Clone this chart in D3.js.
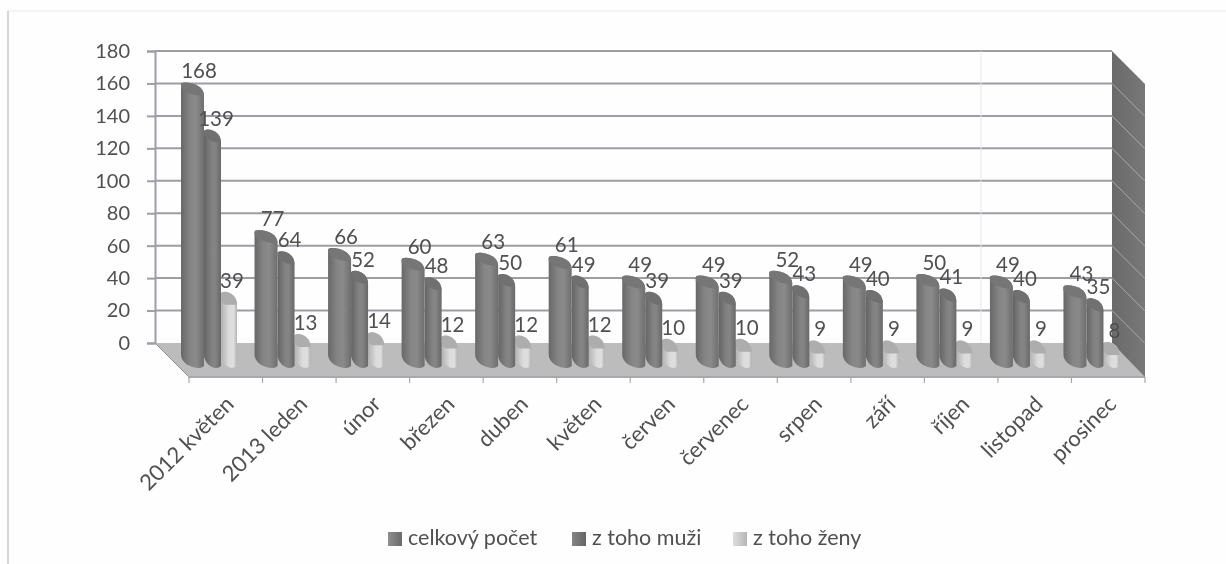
<!DOCTYPE html>
<html>
<head>
<meta charset="utf-8">
<script src="https://cdnjs.cloudflare.com/ajax/libs/d3/7.8.5/d3.min.js"></script>
<style>
    html, body { margin: 0; padding: 0; background: #fefefe; overflow: hidden; }
    svg { display: block; filter: blur(0.7px); }
    text { font-family: Lato, "Open Sans", sans-serif; fill: #505050; }
</style>
</head>
<body>
<div id="content"></div>
<script>
const categories = ['2012 květen', '2013 leden', 'únor', 'březen', 'duben', 'květen', 'červen', 'červenec', 'srpen', 'září', 'říjen', 'listopad', 'prosinec'];
const seriesNames = ['celkový počet', 'z toho muži', 'z toho ženy'];
const celkem = [168, 77, 66, 60, 63, 61, 49, 49, 52, 49, 50, 49, 43];
const muzi = [139, 64, 52, 48, 50, 49, 39, 39, 43, 40, 41, 40, 35];
const zeny = [39, 13, 14, 12, 12, 12, 10, 10, 9, 9, 9, 9, 8];
const yTicks = [0, 20, 40, 60, 80, 100, 120, 140, 160, 180];

const width = 1226;
const height = 564;
const depth = 33;
const backLeft = 155, backRight = 1112;

const y = d3.scaleLinear().domain([0, 180]).range([343, 51]);
const x = d3.scaleBand().domain(categories).range([backLeft + depth + 1, backRight + depth]);

const svg = d3.select('#content').append('svg').attr('width', width).attr('height', height);
const defs = svg.append('defs');

function gradient(id, stops) {
    let g = defs.append('linearGradient').attr('id', id);
    stops.forEach(s => g.append('stop').attr('offset', s[0]).attr('stop-color', s[1]));
}
gradient('g0', [[0, '#686868'], [0.4, '#858585'], [0.65, '#8a8a8a'], [1, '#6e6e6e']]);
gradient('g1', [[0, '#646464'], [0.45, '#828282'], [0.65, '#858585'], [1, '#686868']]);
gradient('g2', [[0, '#b2b2b2'], [0.5, '#dcdcdc'], [0.8, '#dedede'], [1, '#b2b2b2']]);
gradient('legend0', [[0, '#8f8f8f'], [1, '#6a6a6a']]);
gradient('legend1', [[0, '#848484'], [1, '#666666']]);
gradient('legend2', [[0, '#dedede'], [1, '#b5b5b5']]);
gradient('wall', [[0, '#6a6a6a'], [1, '#787878']]);

// sheet border
svg.append('line').attr('x1', 8).attr('x2', width).attr('y1', 11).attr('y2', 11).attr('stroke', '#f0f0f0').attr('stroke-width', 1.5);
svg.append('line').attr('x1', 8).attr('x2', 8).attr('y1', 11).attr('y2', height).attr('stroke', '#c9c9c9').attr('stroke-width', 1.5);

// floor
svg.append('polygon')
    .attr('points', [[backLeft, y(0)], [backRight, y(0)], [backRight + depth, y(0) + depth], [backLeft + depth, y(0) + depth]].join(' '))
    .attr('fill', '#bcbcbc');
svg.append('line').attr('x1', backLeft + depth).attr('x2', backRight + depth).attr('y1', y(0) + depth + 1).attr('y2', y(0) + depth + 1).attr('stroke', '#a8a8ae').attr('stroke-width', 2);
svg.append('line').attr('x1', backLeft).attr('x2', backLeft + depth).attr('y1', y(0)).attr('y2', y(0) + depth).attr('stroke', '#8f8f95').attr('stroke-width', 1);

// right wall
svg.append('polygon')
    .attr('points', [[backRight, y(180)], [backRight + depth, y(180) + depth], [backRight + depth, y(0) + depth + 1], [backRight, y(0)]].join(' '))
    .attr('fill', 'url(#wall)');
svg.selectAll('.wallLine').data(yTicks.slice(1, -1)).enter().append('line')
    .attr('class', 'wallLine')
    .attr('x1', backRight).attr('x2', backRight + depth)
    .attr('y1', d => y(d)).attr('y2', d => y(d) + depth)
    .attr('stroke', '#a8a8a8').attr('stroke-width', 1);

// gridlines
svg.selectAll('.grid').data(yTicks.slice(1)).enter().append('line')
    .attr('class', 'grid')
    .attr('x1', backLeft).attr('x2', backRight)
    .attr('y1', d => y(d)).attr('y2', d => y(d))
    .attr('stroke', '#9d9da6').attr('stroke-width', 2);
svg.append('line').attr('x1', 981).attr('x2', 981).attr('y1', y(180)).attr('y2', y(0)).attr('stroke', '#e6e9ee');

// y axis
let yAxis = d3.axisLeft(y).tickValues(yTicks).tickSize(8).tickPadding(17);
let yG = svg.append('g').attr('transform', `translate(${backLeft},0)`).call(yAxis);
yG.select('.domain').attr('stroke', '#9d9da6').attr('stroke-width', 2);
yG.selectAll('line').attr('stroke', '#9d9da6').attr('stroke-width', 2);
yG.selectAll('text').style('font-size', '20px').style('font-family', 'Lato');

// x axis, ticks on the band edges
svg.selectAll('.edge').data(categories.map(c => x(c)).concat(x.range()[1])).enter().append('line')
    .attr('class', 'edge')
    .attr('x1', d => d).attr('x2', d => d)
    .attr('y1', y(0) + depth + 1).attr('y2', y(0) + depth + 7)
    .attr('stroke', '#a8a8a8').attr('stroke-width', 1.2);
let xAxis = d3.axisBottom(x).tickSize(0);
let xG = svg.append('g').attr('transform', `translate(0,${y(0) + depth})`).call(xAxis);
xG.select('.domain').remove();
xG.selectAll('text')
    .attr('text-anchor', 'end')
    .attr('transform', 'translate(4,24) rotate(-45)')
    .attr('x', 0).attr('y', 0).attr('dy', '0.35em')
    .style('font-size', '22px').style('font-family', 'Lato');

// bars, back series first
const series = [
    { name: seriesNames[2], values: zeny, off: 32, w: 16, fill: 'url(#g2)', cap: '#adadad', lx: 11, flat: true },
    { name: seriesNames[1], values: muzi, off: 15, w: 17, fill: 'url(#g1)', cap: '#707070', lx: 12, flat: false },
    { name: seriesNames[0], values: celkem, off: -8, w: 23, fill: 'url(#g0)', cap: '#767676', lx: 18, flat: false }
];
const lift = 12;   // bar foot sits this far in front of the back floor edge
const slant = 13;

function barPath(x0, w, top, foot) {
    let x1 = x0 + w;
    return `M${x0},${foot} L${x0},${top + 2} Q${x0},${top} ${x0 + 4},${top}`
        + ` C${x0 + w * 0.6},${top} ${x1},${top + 5} ${x1},${top + slant}`
        + ` L${x1},${foot + slant - 2} Q${x1 - 2},${foot + slant} ${x1 - 5},${foot + slant}`
        + ` C${x0 + w * 0.4},${foot + slant} ${x0},${foot + 7} ${x0},${foot} Z`;
}
function capPath(x0, w, top, flat) {
    let x1 = x0 + w;
    let lower = flat
        ? ` L${x0 + w * 0.25},${top + slant} Q${x0},${top + slant - 2} ${x0},${top + 5} Z`
        : ` C${x0 + w * 0.6},${top + slant + 1} ${x0 + w * 0.2},${top + slant - 3} ${x0},${top + 5} Z`;
    return `M${x0},${top + 2} Q${x0},${top} ${x0 + 4},${top}`
        + ` C${x0 + w * 0.6},${top} ${x1},${top + 5} ${x1},${top + slant}` + lower;
}

series.forEach(s => {
    let g = svg.append('g');
    g.selectAll('.bar').data(s.values).enter().append('path')
        .attr('d', (d, i) => barPath(x(categories[i]) + s.off, s.w, y(d) + lift, y(0) + lift))
        .attr('fill', s.fill);
    g.selectAll('.cap').data(s.values).enter().append('path')
        .attr('d', (d, i) => capPath(x(categories[i]) + s.off, s.w, y(d) + lift, s.flat))
        .attr('fill', s.cap);
});

// value labels on top of everything
series.forEach(s => {
    svg.append('g').selectAll('text').data(s.values).enter().append('text')
        .attr('x', (d, i) => x(categories[i]) + s.off + s.lx)
        .attr('y', d => y(d) + lift - 4)
        .attr('text-anchor', 'middle')
        .style('font-size', '20.5px')
        .text(d => d);
});

// legend
const legendX = [388, 572, 733];
const legendFill = ['url(#legend0)', 'url(#legend1)', 'url(#legend2)'];
let legend = svg.append('g').selectAll('g').data(seriesNames).enter().append('g')
    .attr('transform', (d, i) => `translate(${legendX[i]},532)`);
legend.append('rect').attr('width', 14).attr('height', 14).attr('fill', (d, i) => legendFill[i]);
legend.append('text').attr('x', 20).attr('y', 13).style('font-size', '21.5px').text(d => d);
</script>
</body>
</html>
